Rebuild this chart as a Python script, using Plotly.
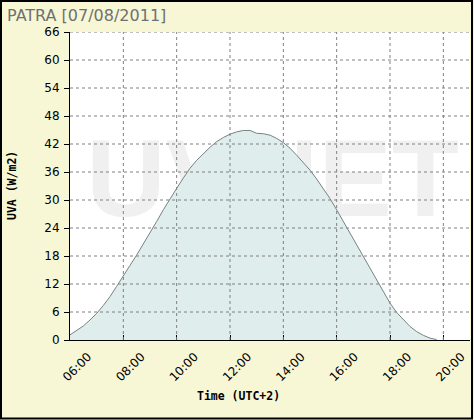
import plotly.graph_objects as go

# ---- data ----
times = ["06:00","06:15","06:30","06:45","07:00","07:15","07:30","07:45",
         "08:00","08:15","08:30","08:45","09:00","09:15","09:30","09:45",
         "10:00","10:15","10:30","10:45","11:00","11:15","11:30","11:45",
         "12:00","12:15","12:30","12:45","13:00","13:15","13:30","13:45",
         "14:00","14:15","14:30","14:45","15:00","15:15","15:30","15:45",
         "16:00","16:15","16:30","16:45","17:00","17:15","17:30","17:45",
         "18:00","18:15","18:30","18:45","19:00","19:15","19:30","19:45"]
uva = [1.1, 2.0, 3.0, 4.3, 5.7, 7.4, 9.3, 11.5,
       13.9, 16.0, 18.2, 20.5, 22.9, 25.4, 27.9, 30.3,
       32.5, 34.7, 36.8, 38.5, 40.0, 41.3, 42.5, 43.4,
       44.1, 44.6, 44.9, 44.9, 44.3, 44.2, 43.9, 43.2,
       42.3, 41.1, 39.6, 38.1, 36.4, 34.5, 32.5, 30.3,
       27.9, 25.4, 22.9, 20.4, 17.9, 15.4, 12.9, 10.3,
       7.9, 5.9, 4.3, 2.9, 1.8, 1.0, 0.4, 0.1]
x_tick_labels = ["06:00","08:00","10:00","12:00","14:00","16:00","18:00","20:00"]
y_ticks = [0, 6, 12, 18, 24, 30, 36, 42, 48, 54, 60, 66]
x_range_labels = ["06:00", "21:00"]
title_text = "PATRA [07/08/2011]"
y_title = "UVA (W/m2)"
x_title = "Time (UTC+2)"
watermark = "UVNET"


def to_h(s):
    h, m = s.split(":")
    return int(h) + int(m) / 60.0


xs = [to_h(t) for t in times]
xt = [to_h(t) for t in x_tick_labels]
xr = [to_h(t) for t in x_range_labels]

fig = go.Figure()

# watermark behind the data
fig.add_trace(go.Scatter(
    x=[13.6], y=[32.5], mode="text", text=[watermark],
    textfont=dict(family="Liberation Sans", size=110, color="#f0f0f0", weight="bold"),
    hoverinfo="skip", showlegend=False, cliponaxis=True))

fig.add_trace(go.Scatter(
    x=xs, y=uva, mode="lines", fill="tozeroy",
    line=dict(color="#778383", width=1),
    fillcolor="#dfeded", showlegend=False))

shapes = []
for v in y_ticks[1:]:
    shapes.append(dict(type="line", xref="paper", x0=0, x1=1, yref="y", y0=v, y1=v,
                       line=dict(color="#808080", width=1, dash="3px,3px"), layer="above"))
for v in xt[1:]:
    shapes.append(dict(type="line", yref="paper", y0=0, y1=1, xref="x", x0=v, x1=v,
                       line=dict(color="#808080", width=1, dash="3px,3px"), layer="above"))

W, H = 474, 420
L, R, T, B = 70, 4, 32, 80
pw, ph = W - L - R, H - T - B


def px(xp):
    return (xp - L) / pw


def py(yp):
    return (H - B - yp) / ph


shapes.append(dict(type="rect", xref="paper", yref="paper",
                   x0=px(1), x1=px(472), y0=py(1), y1=py(418.5),
                   line=dict(color="black", width=2), layer="above"))

fig.update_layout(
    width=W, height=H,
    margin=dict(l=L, r=R, t=T, b=B),
    paper_bgcolor="#f7f7d6", plot_bgcolor="white",
    showlegend=False,
    shapes=shapes,
    font=dict(family="DejaVu Sans", size=12, color="black"),
    annotations=[
        dict(text=title_text, xref="paper", yref="paper", x=px(5), y=py(15.5),
             xanchor="left", yanchor="middle", showarrow=False,
             font=dict(family="DejaVu Sans", size=16, color="#707070")),
        dict(text="<b>" + y_title + "</b>", xref="paper", yref="paper", x=px(12), y=0.5,
             textangle=-90, xanchor="center", yanchor="middle", showarrow=False,
             font=dict(family="DejaVu Sans Mono", size=11.5, color="black")),
        dict(text="<b>" + x_title + "</b>", xref="paper", yref="paper", x=px(238), y=py(396),
             xanchor="center", yanchor="middle", showarrow=False,
             font=dict(family="DejaVu Sans Mono", size=11.5, color="black")),
    ],
)

fig.update_xaxes(range=xr, tickvals=xt, ticktext=x_tick_labels, tickangle=-45,
                 ticks="inside", ticklen=5, tickcolor="black", showgrid=False,
                 showline=True, linecolor="black", linewidth=1, zeroline=False,
                 tickfont=dict(family="DejaVu Sans", size=12, color="black"),
                 ticklabelshift=18, ticklabelstandoff=4)
fig.update_yaxes(range=[y_ticks[0], y_ticks[-1]], tickvals=y_ticks, ticks="outside",
                 ticklen=5, tickcolor="black", showgrid=False, showline=True,
                 linecolor="black", linewidth=1, zeroline=False,
                 tickfont=dict(family="DejaVu Sans", size=12, color="black"),
                 ticklabelstandoff=2)

fig.write_html("out.html")
